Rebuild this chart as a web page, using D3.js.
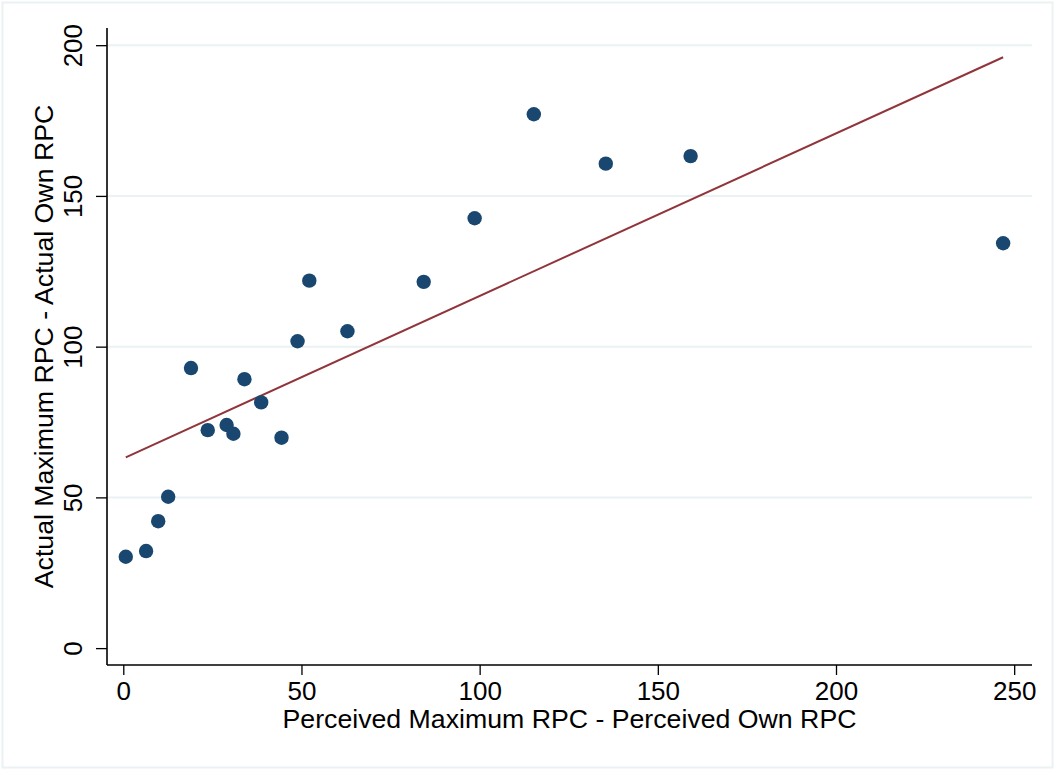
<!DOCTYPE html>
<html>
<head>
<meta charset="utf-8">
<script src="https://cdn.jsdelivr.net/npm/d3@7"></script>
<style>
  body { margin: 0; background: #fff; }
  text { font-family: "Liberation Sans", Arial, sans-serif; fill: #000; }
</style>
</head>
<body>
<script>
// scatter values
const perceivedGap = [0.7, 6.4, 9.8, 12.6, 19.0, 23.7, 29.0, 30.9, 34.0, 38.7,
                      44.4, 48.9, 52.2, 62.9, 84.3, 98.6, 115.2, 135.4, 159.2, 246.9]
const actualGap = [30.3, 32.2, 42.1, 50.2, 92.9, 72.3, 74.0, 71.1, 89.2, 81.5,
                   69.8, 101.8, 121.9, 105.1, 121.5, 142.6, 177.1, 160.7, 163.2, 134.3]

// fitted line end points
const fitX = [0.7, 246.9]
const fitY = [63.3, 196.0]

const xTicks = [0, 50, 100, 150, 200, 250]
const yTicks = [0, 50, 100, 150, 200]
const yGrid = [50, 100, 150, 200]

const xTitle = "Perceived Maximum RPC - Perceived Own RPC"
const yTitle = "Actual Maximum RPC - Actual Own RPC"

// sizes
const width = 1055
const height = 769
const plotLeft = 107, plotRight = 1032, plotTop = 28, plotBottom = 665
const fontSize = 26
const titleSize = 26.7

const data = perceivedGap.map((x, i) => ({x: x, y: actualGap[i]}))
const fit = fitX.map((x, i) => ({x: x, y: fitY[i]}))

const xScale = d3.scaleLinear([-4.57, 255], [plotLeft, plotRight])
const yScale = d3.scaleLinear([-5.6, 205.7], [plotBottom, plotTop])

const svg = d3.select("body")
  .append("svg")
  .attr("width", width)
  .attr("height", height)

// outer frame
svg.append("rect")
  .attr("x", 2.5).attr("y", 2.5)
  .attr("width", width - 5).attr("height", height - 4)
  .attr("fill", "#fff")
  .attr("stroke", "#eaf2f3")
  .attr("stroke-width", 2)

// gridlines
svg.append("g")
  .selectAll("line")
  .data(yGrid)
  .join("line")
  .attr("x1", plotLeft).attr("x2", plotRight)
  .attr("y1", d => yScale(d)).attr("y2", d => yScale(d))
  .attr("stroke", "#eaf2f3")
  .attr("stroke-width", 2)

// x axis
const xAxis = d3.axisBottom(xScale).tickValues(xTicks).tickSize(10).tickSizeOuter(0)
const gx = svg.append("g")
  .attr("transform", `translate(0, ${plotBottom})`)
  .call(xAxis)
gx.select(".domain").attr("stroke-width", 1.6).attr("d", `M${plotLeft},0H${plotRight}`)
gx.selectAll(".tick line").attr("stroke-width", 1.3)
gx.selectAll(".tick text")
  .attr("font-size", fontSize)
  .attr("font-family", "Liberation Sans, Arial, sans-serif")
  .attr("dy", null)
  .attr("y", 35)

// y axis
const yAxis = d3.axisLeft(yScale).tickValues(yTicks).tickSize(11).tickSizeOuter(0)
const gy = svg.append("g")
  .attr("transform", `translate(${plotLeft}, 0)`)
  .call(yAxis)
gy.select(".domain").attr("stroke-width", 1.6).attr("d", `M0,${plotTop}V${plotBottom}`)
gy.selectAll(".tick line").attr("stroke-width", 1.3)
gy.selectAll(".tick text")
  .attr("font-size", fontSize)
  .attr("font-family", "Liberation Sans, Arial, sans-serif")
  .attr("x", null).attr("dy", null)
  .attr("text-anchor", "middle")
  .attr("transform", "translate(-25, 0) rotate(-90)")

// fitted line
svg.append("path")
  .datum(fit)
  .attr("d", d3.line().x(d => xScale(d.x)).y(d => yScale(d.y)))
  .attr("fill", "none")
  .attr("stroke", "#90353b")
  .attr("stroke-width", 2)

// points
svg.append("g")
  .selectAll("circle")
  .data(data)
  .join("circle")
  .attr("cx", d => xScale(d.x))
  .attr("cy", d => yScale(d.y))
  .attr("r", 7.2)
  .attr("fill", "#1a476f")

// titles
svg.append("text")
  .text(xTitle)
  .attr("x", (plotLeft + plotRight) / 2)
  .attr("y", 728)
  .attr("text-anchor", "middle")
  .attr("font-size", titleSize)

svg.append("text")
  .text(yTitle)
  .attr("transform", `translate(53, ${(plotTop + plotBottom) / 2}) rotate(-90)`)
  .attr("text-anchor", "middle")
  .attr("font-size", titleSize)
</script>
</body>
</html>
